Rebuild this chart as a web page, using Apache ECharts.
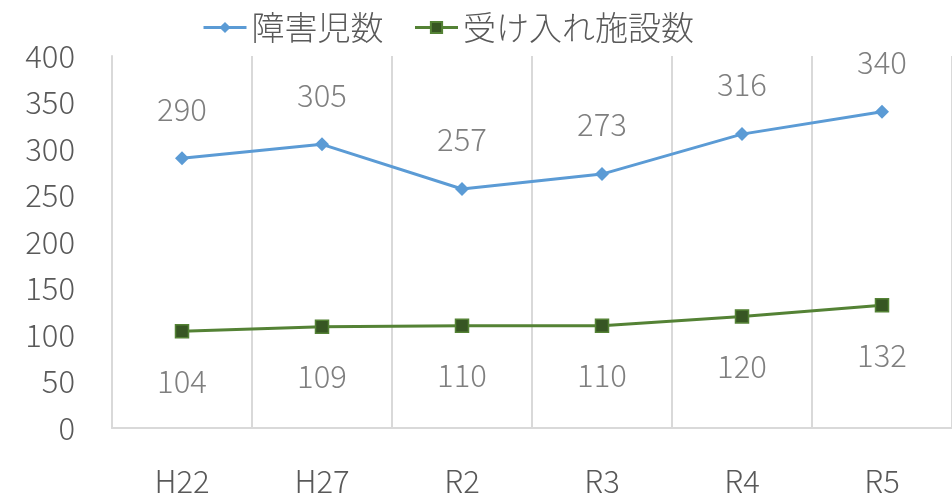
<!DOCTYPE html>
<html>
<head>
<meta charset="utf-8">
<script src="https://cdn.jsdelivr.net/npm/echarts@6/dist/echarts.min.js"></script>
<style>
  html, body { margin: 0; padding: 0; background: #fff; }
  #chart { width: 952px; height: 498px; }
</style>
</head>
<body>
<div id="chart"></div>
<script>
var categories = ['H22', 'H27', 'R2', 'R3', 'R4', 'R5'];
var childValues = [290, 305, 257, 273, 316, 340];
var facilityValues = [104, 109, 110, 110, 120, 132];
var yTicks = [0, 400, 50];

var font = '"Noto Sans CJK JP", "Noto Sans", sans-serif';
var chart = echarts.init(document.getElementById('chart'));

var option = {
  animation: false,
  textStyle: { fontFamily: font },
  legend: {
    top: 6,
    left: 197,
    itemWidth: 43,
    itemHeight: 14,
    itemGap: 30,
    lineStyle: { width: 3 },
    textStyle: { fontSize: 33, color: '#595959', fontFamily: font, fontWeight: 300 },
    data: ['障害児数', '受け入れ施設数']
  },
  grid: {
    left: 112,
    top: 56,
    width: 852,
    bottom: 70,
    containLabel: false
  },
  xAxis: {
    type: 'category',
    data: categories,
    boundaryGap: true,
    axisLine: { lineStyle: { color: '#d9d9d9', width: 2 } },
    axisTick: { show: false },
    splitLine: { show: true, lineStyle: { color: '#d9d9d9', width: 2 } },
    axisLabel: { fontSize: 31, color: '#595959', margin: 38, fontFamily: font, fontWeight: 300 }
  },
  yAxis: {
    type: 'value',
    min: yTicks[0],
    max: yTicks[1],
    interval: yTicks[2],
    axisLine: { show: true, lineStyle: { color: '#d9d9d9', width: 2 } },
    axisTick: { show: false },
    splitLine: { show: false },
    axisLabel: { fontSize: 31, color: '#595959', margin: 37, fontFamily: font, fontWeight: 300 }
  },
  series: [
    {
      name: '障害児数',
      type: 'line',
      data: childValues,
      symbol: 'diamond',
      symbolSize: 14,
      color: '#5b9bd5',
      lineStyle: { width: 3, color: '#5b9bd5' },
      itemStyle: { color: '#5b9bd5' },
      label: { show: true, position: 'top', distance: 27, fontSize: 31, color: '#7f7f7f', fontFamily: font, fontWeight: 300 }
    },
    {
      name: '受け入れ施設数',
      type: 'line',
      data: facilityValues,
      symbol: 'rect',
      symbolSize: 13,
      color: '#548235',
      lineStyle: { width: 3, color: '#548235' },
      itemStyle: { color: '#375623', borderColor: '#548235', borderWidth: 1.5 },
      label: { show: true, position: 'bottom', distance: 27, fontSize: 31, color: '#7f7f7f', fontFamily: font, fontWeight: 300 }
    }
  ]
};

chart.setOption(option);
</script>
</body>
</html>
